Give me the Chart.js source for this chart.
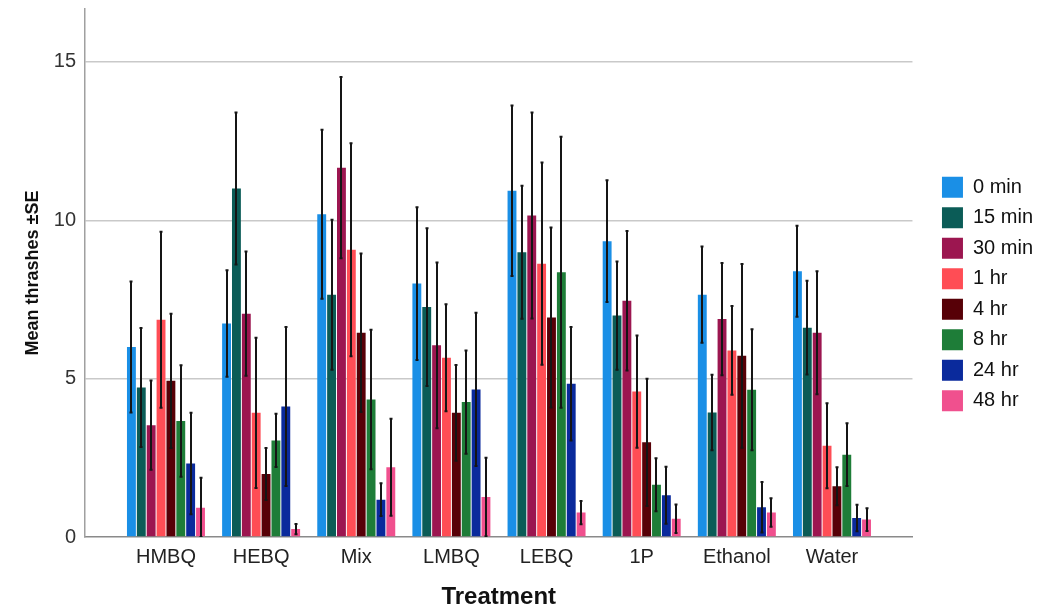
<!DOCTYPE html>
<html>
<head>
<meta charset="utf-8">
<script src="https://cdn.jsdelivr.net/npm/chart.js@4/dist/chart.umd.min.js"></script>
<style>
  html, body { margin: 0; padding: 0; background: #ffffff; }
  #wrap { width: 1043px; height: 612px; }
</style>
</head>
<body>
<div id="wrap"><canvas id="c" width="1043" height="612"></canvas></div>
<script>
// Categories (treatments)
const categories = ["HMBQ", "HEBQ", "Mix", "LMBQ", "LEBQ", "1P", "Ethanol", "Water"];
// Series names (time points)
const seriesNames = ["0 min", "15 min", "30 min", "1 hr", "4 hr", "8 hr", "24 hr", "48 hr"];
const seriesColors = ["#1a8fe6", "#0b5c57", "#9c1650", "#ff4d55", "#570007", "#1e7d38", "#0a2a9c", "#f0508e"];

// Mean thrashes per time point (one value per treatment)
const mean0min  = [6.00, 6.74, 10.19, 8.00, 10.93, 9.34, 7.65, 8.39];
const mean15min = [4.72, 11.00, 7.65, 7.26, 8.99, 6.99, 3.93, 6.61];
const mean30min = [3.53, 7.05, 11.66, 6.05, 10.15, 7.46, 6.88, 6.45];
const mean1hr   = [6.86, 3.92, 9.07, 5.66, 8.63, 4.59, 5.89, 2.88];
const mean4hr   = [4.93, 1.99, 6.45, 3.92, 6.93, 2.99, 5.72, 1.60];
const mean8hr   = [3.66, 3.05, 4.34, 4.26, 8.36, 1.65, 4.65, 2.60];
const mean24hr  = [2.32, 4.12, 1.18, 4.66, 4.84, 1.32, 0.94, 0.60];
const mean48hr  = [0.92, 0.25, 2.20, 1.26, 0.77, 0.58, 0.77, 0.55];

// Standard errors
const se0min  = [2.07, 1.68, 2.67, 2.41, 2.69, 1.92, 1.52, 1.44];
const se15min = [1.88, 2.40, 2.37, 2.49, 2.10, 1.71, 1.19, 1.48];
const se30min = [1.41, 1.96, 2.86, 2.62, 3.25, 2.20, 1.77, 1.94];
const se1hr   = [2.78, 2.37, 3.36, 1.69, 3.19, 1.77, 1.40, 1.34];
const se4hr   = [2.12, 0.82, 2.50, 1.51, 2.84, 2.01, 2.90, 0.60];
const se8hr   = [1.76, 0.84, 2.20, 1.63, 4.28, 0.84, 1.91, 0.99];
const se24hr  = [1.60, 2.51, 0.52, 2.42, 1.79, 0.90, 0.80, 0.42];
const se48hr  = [0.95, 0.16, 1.53, 1.24, 0.37, 0.45, 0.45, 0.36];

const yTicks = [0, 5, 10, 15];

const means = [mean0min, mean15min, mean30min, mean1hr, mean4hr, mean8hr, mean24hr, mean48hr];
const ses = [se0min, se15min, se30min, se1hr, se4hr, se8hr, se24hr, se48hr];

const FONT = "'Liberation Sans', Arial, sans-serif";

const datasets = seriesNames.map((name, s) => ({
  label: name,
  data: means[s].map((v, i) => ({ x: i, y: v })),
  se: ses[s],
  backgroundColor: seriesColors[s],
  borderWidth: 0,
  barPercentage: 0.9,
  categoryPercentage: 0.83
}));

const errorBars = {
  id: 'errorBars',
  afterDatasetsDraw(chart) {
    const ctx = chart.ctx;
    const y = chart.scales.y;
    const area = chart.chartArea;
    ctx.save();
    ctx.beginPath();
    ctx.rect(area.left, area.top, area.right - area.left, area.bottom - area.top);
    ctx.clip();
    ctx.strokeStyle = '#151515';
    ctx.lineWidth = 2;
    chart.data.datasets.forEach((ds, di) => {
      const meta = chart.getDatasetMeta(di);
      meta.data.forEach((el, i) => {
        const v = ds.data[i].y, e = ds.se[i];
        const yt = y.getPixelForValue(v + e);
        const yb = y.getPixelForValue(Math.max(v - e, 0));
        const x = Math.round(el.x);
        ctx.beginPath();
        ctx.moveTo(x, yt); ctx.lineTo(x, yb);
        ctx.moveTo(x - 1.5, yt); ctx.lineTo(x + 1.5, yt);
        ctx.moveTo(x - 1.5, yb); ctx.lineTo(x + 1.5, yb);
        ctx.stroke();
      });
    });
    ctx.restore();
  }
};

new Chart(document.getElementById('c'), {
  type: 'bar',
  data: { datasets },
  plugins: [errorBars],
  options: {
    responsive: false,
    animation: false,
    devicePixelRatio: 1,
    layout: { padding: { top: 9, left: 0, right: 0, bottom: 0 } },
    plugins: {
      tooltip: { enabled: false },
      legend: {
        position: 'right',
        align: 'center',
        fullSize: false,
        title: {
          display: true,
          text: ' ',
          font: { size: 10 },
          padding: 15
        },
        labels: {
          boxWidth: 21,
          boxHeight: 21,
          padding: 9.5,
          color: '#111',
          font: { family: FONT, size: 20 }
        }
      }
    },
    scales: {
      x: {
        type: 'linear',
        min: -0.851,
        max: 7.846,
        offset: false,
        afterBuildTicks(scale) { scale.ticks = categories.map((c, i) => ({ value: i })); },
        afterFit(scale) { scale.height = 612 - 537; scale.paddingLeft = 0; scale.paddingRight = 0; },
        ticks: {
          autoSkip: false,
          maxRotation: 0,
          padding: 8,
          color: '#222',
          font: { family: FONT, size: 20 },
          callback: (v) => categories[v]
        },
        grid: { display: false, drawTicks: false },
        border: { display: true, color: '#8a8a8a', width: 1.5 },
        title: {
          display: true,
          text: 'Treatment',
          color: '#111',
          font: { family: FONT, size: 24, weight: 'bold' },
          padding: { top: 0, bottom: 0 }
        }
      },
      y: {
        min: 0,
        max: 16.67,
        afterBuildTicks(scale) { scale.ticks = yTicks.map(v => ({ value: v })); },
        afterFit(scale) { scale.width = 85; scale.paddingTop = 0; scale.paddingBottom = 0; },
        ticks: {
          padding: 9,
          color: '#333',
          font: { family: FONT, size: 20 }
        },
        grid: {
          drawTicks: false,
          color: (c) => (c.tick && c.tick.value === 0) ? 'rgba(0,0,0,0)' : '#c9c9c9',
          lineWidth: 1.5
        },
        border: { display: true, color: '#a0a0a0', width: 1.5 },
        title: {
          display: true,
          text: 'Mean thrashes \u00b1SE',
          color: '#111',
          font: { family: FONT, size: 18, weight: 'bold' },
          padding: { top: 22, bottom: 0 }
        }
      },
      gap: {
        position: 'right',
        display: true,
        afterFit(scale) { scale.width = 20; scale.paddingTop = 0; scale.paddingBottom = 0; },
        ticks: { display: false },
        grid: { display: false, drawTicks: false },
        border: { display: false }
      }
    }
  }
});
</script>
</body>
</html>
